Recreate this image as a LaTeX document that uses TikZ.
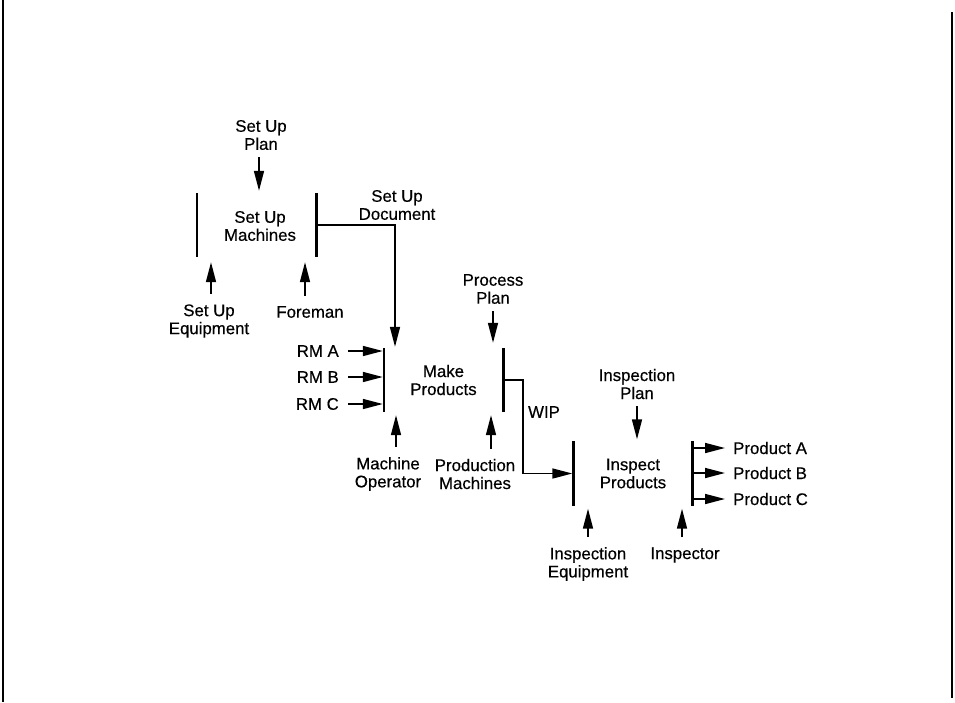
\documentclass[tikz,border=0pt]{standalone}
\usepackage{fontspec}
\setmainfont[FakeBold=0.4]{Liberation Sans}
\usetikzlibrary{arrows.meta}

\begin{document}
\begin{tikzpicture}[x=1pt,y=-1pt,
  every node/.style={font=\fontsize{16.8}{18}\selectfont,align=center,inner sep=3pt},
  act/.style={minimum width=119pt,minimum height=64pt,inner sep=0pt},
  bar/.style={line width=2.6pt},
  flow/.style={line width=1.6pt,-{Triangle[length=20pt,width=10pt]}}]
  \useasboundingbox (0,0) rectangle (955,702);
  % page edges
  \draw[line width=2pt] (3,0) -- (3,702);
  \draw[line width=2pt] (952,12) -- (952,698);

  % activities
  \node[act] (su) at (256.5,225) {};
  \node[act] (mk) at (443.5,380) {Make\\Products};
  \node[act] (in) at (633,473.5) {Inspect\\Products};
  \node (suText) at (260,226) {Set Up\\Machines};
  \foreach \a in {su,mk,in}{
    \draw[bar] (\a.north west) -- (\a.south west);
    \draw[bar] (\a.north east) -- (\a.south east);
  }

  % set up machines
  \node (suPlan) at (261,135) {Set Up\\Plan};
  \node (suEq) at (209,321) {Set Up\\Equipment};
  \node (fore) at (310,312) {Foreman};
  \node (suDoc) at (397,205) {Set Up\\Document};
  \coordinate (suEqIn) at ([xshift=2pt,yshift=7pt]suEq.north);
  \coordinate (foreIn) at ([xshift=-5pt,yshift=7pt]fore.north);
  \draw[flow,shorten <=4pt,shorten >=2pt] ([xshift=-2pt]suPlan.south) -- ([xshift=-2pt]suPlan.south |- su.north);
  \draw[flow,shorten >=5pt] (suEqIn) -- (suEqIn |- su.south);
  \draw[flow,shorten >=5pt] (foreIn) -- (foreIn |- su.south);
  \draw[flow,shorten >=1pt] (su.east) -| ([xshift=-48.5pt]mk.north);

  % make products
  \node (prPlan) at (493,289) {Process\\Plan};
  \node[anchor=east] (rmA) at (342,351) {RM A};
  \node[anchor=east] (rmB) at (342,377) {RM B};
  \node[anchor=east] (rmC) at (342,404) {RM C};
  \node (mo) at (388,474) {Machine\\Operator};
  \node (pm) at (475,474) {Production\\Machines};
  \coordinate (moIn) at ([xshift=8pt,yshift=7pt]mo.north);
  \coordinate (pmIn) at ([xshift=16pt,yshift=7pt]pm.north);
  \draw[flow,shorten <=4pt,shorten >=5pt] (prPlan) -- (prPlan |- mk.north);
  \foreach \r in {rmA,rmB,rmC}
    \draw[flow,shorten <=6pt,shorten >=1pt] (\r.east) -- (\r.east -| mk.west);
  \draw[flow,shorten >=3pt] (moIn) -- (moIn |- mk.south);
  \draw[flow,shorten >=3pt] (pmIn) -- (pmIn |- mk.south);
  \draw[flow,shorten >=1pt] (mk.east) -- ++(20,0) |- (in.west);
  \node (wip) at (544,412) {WIP};

  % inspect products
  \node (inPlan) at (637,384) {Inspection\\Plan};
  \node (inEq) at (588,564) {Inspection\\Equipment};
  \node (insp) at (685,555) {Inspector};
  \coordinate (inEqIn) at ([yshift=7pt]inEq.north);
  \coordinate (inspIn) at ([xshift=-3pt,yshift=7pt]insp.north);
  \draw[flow,shorten <=4pt,shorten >=2pt] (inPlan) -- (inPlan |- in.north);
  \draw[flow,shorten >=3pt] (inEqIn) -- (inEqIn |- in.south);
  \draw[flow,shorten >=3pt] (inspIn) -- (inspIn |- in.south);
  \node[anchor=west] (prA) at (730,448) {Product A};
  \node[anchor=west] (prB) at (730,473) {Product B};
  \node[anchor=west] (prC) at (730,499) {Product C};
  \foreach \p in {prA,prB,prC}
    \draw[flow,shorten >=5pt] (\p.west -| in.east) -- (\p.west);
\end{tikzpicture}
\end{document}
